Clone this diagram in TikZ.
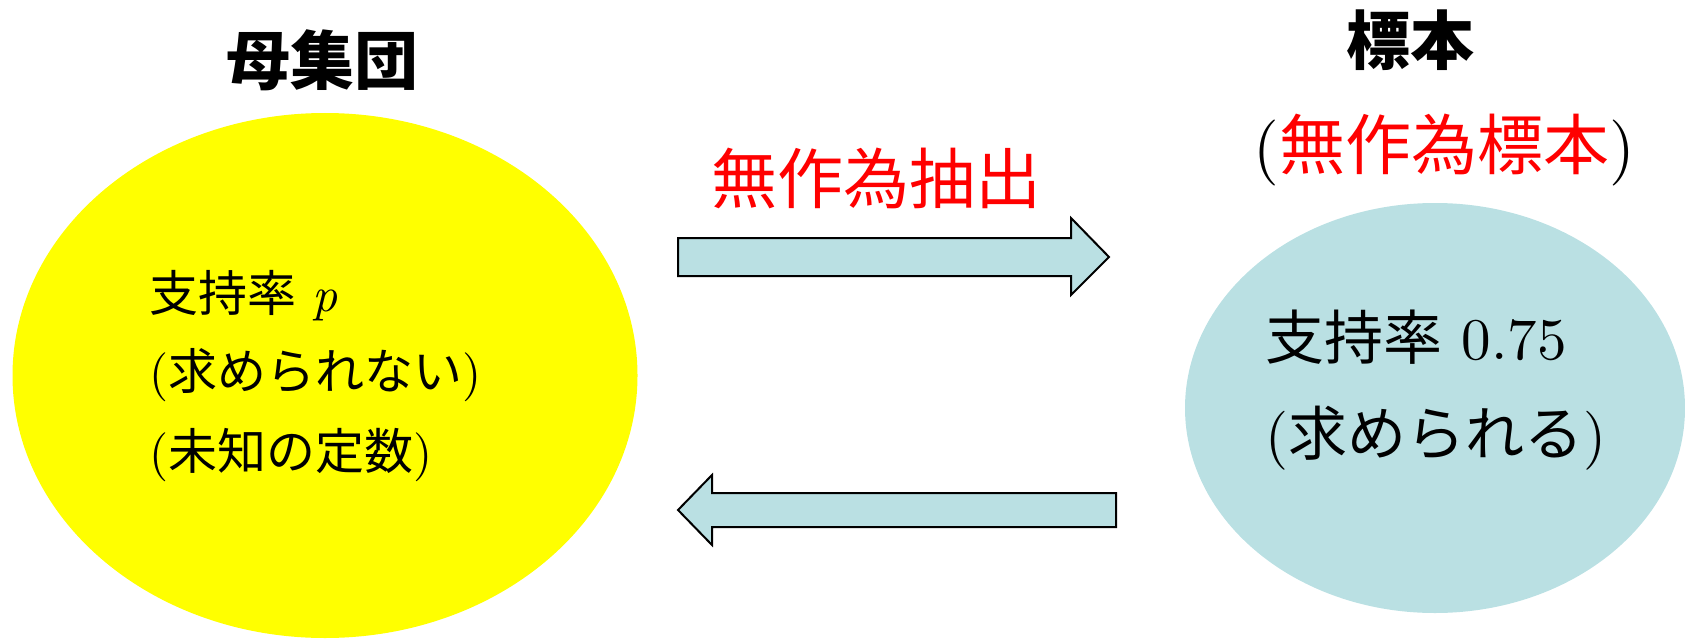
\documentclass[tikz,border=0pt]{standalone}
\usepackage{fontspec}
\setmainfont{lmroman10-regular.otf}[ItalicFont=lmroman10-italic.otf, BoldFont=lmroman10-bold.otf]
\newfontfamily\cjk{Noto Sans CJK JP}
\newcommand\jp[1]{{\cjk #1}}
\usetikzlibrary{shapes.geometric}
\definecolor{popyellow}{RGB}{255,255,0}
\definecolor{sampblue}{RGB}{186,224,227}
\definecolor{jred}{RGB}{255,0,0}
\begin{document}
\begin{tikzpicture}[x=1pt,y=-1pt]
\tikzset{
  titletext/.style={font=\cjk\bfseries\fontsize{64}{70}\selectfont, inner sep=0, anchor=base},
  redtext/.style={font=\fontsize{66}{70}\selectfont, inner sep=0, anchor=base},
  poptext/.style={font=\fontsize{49}{60}\selectfont, inner sep=0, anchor=base west},
  samptext/.style={font=\fontsize{59}{70}\selectfont, inner sep=0, anchor=base west},
  blockarrow/.style={fill=sampblue, draw=black, line width=2pt, line join=miter}
}
\useasboundingbox (0,0) rectangle (1685,639);
% ellipses
\node[ellipse, fill=popyellow, minimum width=625pt, minimum height=525pt, inner sep=0] (pop) at (325,375.5) {};
\node[ellipse, fill=sampblue, minimum width=500pt, minimum height=410pt, inner sep=0] (samp) at (1435,408) {};
% titles
\node[titletext] (poptitle) at (322.5,85) {母集団};
\node[titletext] (samptitle) at (1410,65) {標本};
\node[redtext] (randsamp) at (1444,170) {(\textcolor{jred}{\jp{無作為標本}})};
\node[redtext, text=jred] (drawlabel) at (876,204) {\jp{無作為抽出}};
% population text
\node[poptext] (popa) at (149,311) {\jp{支持率} \textit{p}};
\node[poptext] (popb) at (149,389) {(\jp{求められない})};
\node[poptext] (popc) at (149,469) {(\jp{未知の定数})};
% sample text
\node[samptext] (sampa) at (1265,359) {\jp{支持率} 0.75};
\node[samptext] (sampb) at (1265,455) {(\jp{求められる})};
% block arrows
\draw[blockarrow] (678,238) -- (1071,238) -- (1071,218) -- (1109,257) -- (1071,295) -- (1071,276) -- (678,276) -- cycle;
\draw[blockarrow] (1116,493) -- (712,493) -- (712,475) -- (678,510) -- (712,545) -- (712,527) -- (1116,527) -- cycle;
\end{tikzpicture}
\end{document}
